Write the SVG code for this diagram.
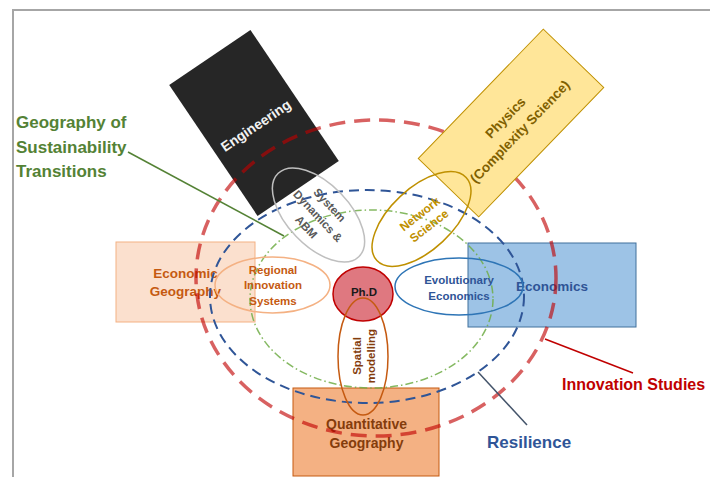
<svg xmlns="http://www.w3.org/2000/svg" width="710" height="477" viewBox="0 0 710 477">
<style>
text{font-family:"Liberation Sans",Arial,sans-serif;font-weight:bold;}
.m{text-anchor:middle}
.s{fill:none;stroke-width:1.5}
</style>
<rect width="710" height="477" fill="#fff"/>
<path d="M13,477 V10 H710" fill="none" stroke="#a6a6a6" stroke-width="2"/>

<g id="engineering" transform="translate(254,123) rotate(-34)">
<rect x="-49" y="-79" width="98" height="158" fill="#262626"/>
<text class="m" x="0" y="8" font-size="14" fill="#f2f2f2">Engineering</text>
</g>

<g id="economic-geography">
<rect x="116" y="242" width="139" height="80" fill="#fbe0ce" stroke="#f4b183" stroke-width="1"/>
<text class="m" x="185.5" y="278" font-size="13.5" fill="#c55a11">Economic</text>
<text class="m" x="185.5" y="296" font-size="13.5" fill="#c55a11">Geography</text>
</g>

<g id="economics">
<rect x="468" y="243" width="168" height="84" fill="#9dc3e6" stroke="#41719c" stroke-width="1"/>
<text class="m" x="552" y="290.5" font-size="13.5" fill="#2f5496">Economics</text>
</g>

<g id="quantitative-geography">
<rect x="293" y="388" width="146" height="88" fill="#f4b183" stroke="#c55a11" stroke-width="1"/>
<text class="m" x="366.5" y="429" font-size="14" fill="#843c0c">Quantitative</text>
<text class="m" x="366.5" y="447.5" font-size="14" fill="#843c0c">Geography</text>
</g>

<g id="innovation-studies">
<ellipse cx="376" cy="278" rx="180" ry="158" fill="none" stroke="#c00000" stroke-opacity="0.62" stroke-width="3.5" stroke-dasharray="16 9"/>
<text x="562" y="390" font-size="16" fill="#c00000">Innovation Studies</text>
</g>

<g id="physics" transform="translate(511,123) rotate(-46)">
<rect x="-90" y="-42" width="180" height="84" fill="#ffe699" stroke="#bf9000" stroke-width="1"/>
<text class="m" x="0" y="-3" font-size="13.5" fill="#7f6000">Physics</text>
<text class="m" x="0" y="17" font-size="13.5" fill="#7f6000">(Complexity Science)</text>
</g>

<g id="resilience">
<ellipse cx="367" cy="296.5" rx="157" ry="106.5" fill="none" stroke="#2f5597" stroke-width="2" stroke-dasharray="10 6"/>
<text x="487" y="448" font-size="17" fill="#2f5597">Resilience</text>
</g>

<g id="sustainability-transitions">
<ellipse cx="371.5" cy="299" rx="121.5" ry="89" fill="none" stroke="#70ad47" stroke-opacity="0.85" stroke-width="1.5" stroke-dasharray="8 3 1.5 3"/>
<text x="16" y="128" font-size="17" fill="#548235">Geography of</text>
<text x="16" y="153" font-size="17" fill="#548235">Sustainability</text>
<text x="16" y="177" font-size="17" fill="#548235">Transitions</text>
</g>

<g id="regional-innovation-systems">
<ellipse class="s" cx="272.5" cy="285" rx="57.5" ry="28" stroke="#f4b183"/>
<text class="m" x="273" y="273.5" font-size="11.5" fill="#c55a11">Regional</text>
<text class="m" x="273" y="289" font-size="11.5" fill="#c55a11">Innovation</text>
<text class="m" x="273" y="305" font-size="11.5" fill="#c55a11">Systems</text>
</g>

<g id="evolutionary-economics">
<ellipse class="s" cx="459" cy="286.5" rx="64" ry="28.5" stroke="#2e75b6"/>
<text class="m" x="459" y="283.5" font-size="11.5" fill="#2f5597">Evolutionary</text>
<text class="m" x="459" y="299.5" font-size="11.5" fill="#2f5597">Economics</text>
</g>

<g id="phd">
<ellipse cx="363" cy="294" rx="30" ry="27" fill="#df7880" stroke="#c00000" stroke-width="1.5"/>
<text class="m" x="364" y="296" font-size="11.5" fill="#1a1a1a">Ph.D</text>
</g>

<g id="spatial-modelling">
<ellipse class="s" cx="363" cy="356.5" rx="25" ry="58.5" stroke="#c55a11"/>
<g transform="translate(364,356) rotate(-90)">
<text class="m" x="0" y="-3" font-size="11.5" fill="#843c0c">Spatial</text>
<text class="m" x="0" y="11" font-size="11.5" fill="#843c0c">modelling</text>
</g>
</g>

<g id="system-dynamics-abm">
<ellipse class="s" cx="0" cy="0" rx="58" ry="31" stroke="#bfbfbf" transform="translate(318.5,215) rotate(46)"/>
<g transform="translate(318,216) rotate(47)">
<text class="m" x="0" y="-12" font-size="11.5" fill="#595959">System</text>
<text class="m" x="0" y="4" font-size="11.5" fill="#595959">Dynamics &amp;</text>
<text class="m" x="0" y="20" font-size="11.5" fill="#595959">ABM</text>
</g>
</g>

<g id="network-science">
<ellipse class="s" cx="0" cy="0" rx="61" ry="31" stroke="#bf9000" transform="translate(421.5,219) rotate(-43)"/>
<g transform="translate(424.5,220) rotate(-38)">
<text class="m" x="0" y="-3.5" font-size="12" fill="#bf9000">Network</text>
<text class="m" x="0" y="11.5" font-size="12" fill="#bf9000">Science</text>
</g>
</g>

<g id="connectors" fill="none" stroke-width="1.5">
<line x1="128" y1="152" x2="284" y2="236" stroke="#548235"/>
<line x1="545" y1="339" x2="633" y2="373" stroke="#c00000"/>
<line x1="478" y1="372" x2="527" y2="425" stroke="#44546a"/>
</g>
</svg>
